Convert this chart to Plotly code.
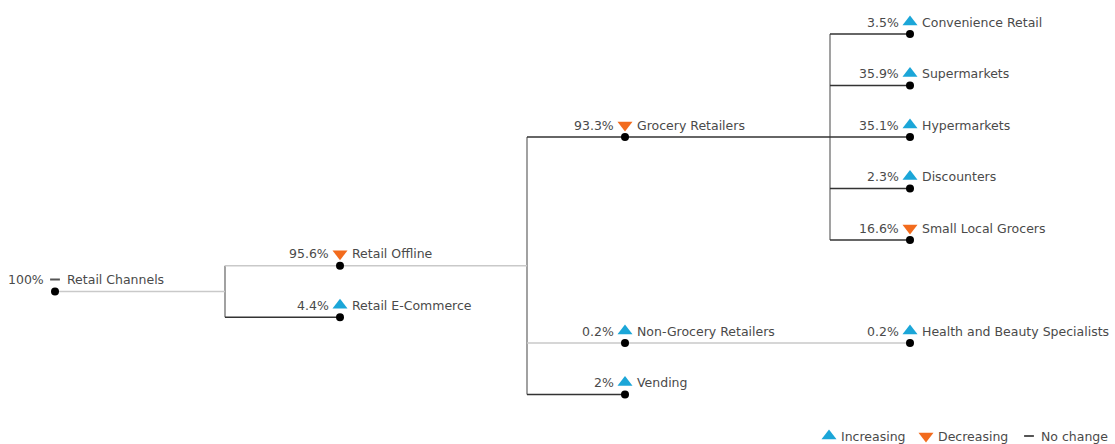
import plotly.graph_objects as go

# ---------------- data ----------------
NODES = ["Retail Channels", "Retail Offline", "Retail E-Commerce",
         "Grocery Retailers", "Non-Grocery Retailers", "Vending",
         "Convenience Retail", "Supermarkets", "Hypermarkets", "Discounters",
         "Small Local Grocers", "Health and Beauty Specialists"]
PARENTS = [None, "Retail Channels", "Retail Channels",
           "Retail Offline", "Retail Offline", "Retail Offline",
           "Grocery Retailers", "Grocery Retailers", "Grocery Retailers",
           "Grocery Retailers", "Grocery Retailers", "Non-Grocery Retailers"]
SHARES = [100, 95.6, 4.4, 93.3, 0.2, 2, 3.5, 35.9, 35.1, 2.3, 16.6, 0.2]
TRENDS = ["flat", "down", "up", "down", "up", "up",
          "up", "up", "up", "up", "down", "up"]
LEGEND_LABELS = ["Increasing", "Decreasing", "No change"]

# ---------------- style / layout constants ----------------
W, H = 1115, 444
X0, DX = 55, 285                # x of depth 0 and spacing between depths
BRANCH_GAP = [170, 187, 205]    # distance from node to its children's branch line
Y_TOP, UNIT = 34, 51.5          # y of top-most node, px per layout unit
LIGHT_STEMS = {"Retail Channels", "Retail Offline", "Non-Grocery Retailers",
               "Health and Beauty Specialists"}
C_LIGHT, C_DARK, C_VERT = "#c9c9c9", "#333333", "#7a7a7a"
C_UP, C_DOWN, C_FLAT = "#1ba6d8", "#f26b1d", "#555555"
TXT = "#4a4a4a"
FONT = "DejaVu Sans"
FS = 12.5
TRI = 13

# ---------------- tidy tree layout (contour based) ----------------
children = {n: [] for n in NODES}
for n, p in zip(NODES, PARENTS):
    if p is not None:
        children[p].append(n)
root = NODES[PARENTS.index(None)]
depth = {}
def set_depth(n, d):
    depth[n] = d
    for c in children[n]:
        set_depth(c, d + 1)
set_depth(root, 0)

rel = {}  # offset of node relative to parent
def layout(n):
    kids = children[n]
    if not kids:
        return {0: (0.0, 0.0)}
    offs, combined = [], None
    for c in kids:
        cont = layout(c)
        if combined is None:
            off = 0.0
        else:
            off = -1e9
            for d in cont:
                if d in combined:
                    sep = 1 if d == 0 else 2
                    off = max(off, combined[d][1] - cont[d][0] + sep)
        offs.append(off)
        shifted = {d: (a + off, b + off) for d, (a, b) in cont.items()}
        if combined is None:
            combined = shifted
        else:
            for d, (a, b) in shifted.items():
                if d in combined:
                    combined[d] = (min(combined[d][0], a), max(combined[d][1], b))
                else:
                    combined[d] = (a, b)
    mid = (offs[0] + offs[-1]) / 2
    for c, o in zip(kids, offs):
        rel[c] = o - mid
    res = {0: (0.0, 0.0)}
    for d, (a, b) in combined.items():
        res[d + 1] = (a - mid, b - mid)
    return res
layout(root)

u = {root: 0.0}
def absu(n):
    for c in children[n]:
        u[c] = u[n] + rel[c]
        absu(c)
absu(root)
umin = min(u.values())
px = {n: X0 + depth[n] * DX for n in NODES}
py = {n: Y_TOP + (u[n] - umin) * UNIT for n in NODES}
branch = {n: px[n] + BRANCH_GAP[depth[n]] for n in NODES if children[n]}

fig = go.Figure()

# vertical connectors
for n in NODES:
    kids = children[n]
    if len(kids) > 1:
        ys = [py[c] for c in kids]
        fig.add_trace(go.Scatter(x=[branch[n], branch[n]], y=[min(ys), max(ys)],
                                 mode="lines", line=dict(color=C_VERT, width=1.4),
                                 hoverinfo="skip", showlegend=False))
# horizontal stems
for n, p in zip(NODES, PARENTS):
    x_start = branch[p] if p is not None else px[n]
    x_end = branch[n] if children[n] else px[n]
    col = C_LIGHT if n in LIGHT_STEMS else C_DARK
    fig.add_trace(go.Scatter(x=[x_start, x_end], y=[py[n], py[n]], mode="lines",
                             line=dict(color=col, width=1.4),
                             hoverinfo="skip", showlegend=False))
# node dots
fig.add_trace(go.Scatter(x=[px[n] for n in NODES], y=[py[n] for n in NODES],
                         mode="markers", marker=dict(color="black", size=8),
                         text=NODES, hoverinfo="text", showlegend=False))

SYM = {"up": ("triangle-up", C_UP), "down": ("triangle-down", C_DOWN),
       "flat": ("line-ew", C_FLAT)}
def sym_marker(t):
    sym, col = SYM[t]
    return dict(symbol=sym, size=TRI if t != "flat" else 7, color=col,
                line=dict(color=col, width=2 if t == "flat" else 0))

for t in ["up", "down", "flat"]:
    sel = [n for n, tr in zip(NODES, TRENDS) if tr == t]
    fig.add_trace(go.Scatter(
        x=[px[n] for n in sel], y=[py[n] - 12 for n in sel], mode="markers",
        marker=sym_marker(t), hoverinfo="skip", showlegend=False))

for n, s in zip(NODES, SHARES):
    fig.add_annotation(x=px[n] - 9, y=py[n] - 12, text=f"{s:g}%", showarrow=False,
                       xanchor="right", yanchor="middle",
                       font=dict(family=FONT, size=FS, color=TXT))
    fig.add_annotation(x=px[n] + 10, y=py[n] - 12, text=n, showarrow=False,
                       xanchor="left", yanchor="middle",
                       font=dict(family=FONT, size=FS, color=TXT))

# legend (bottom right)
LEG_X = [829, 926, 1029]
LEG_Y = 436
for lx, lab, t in zip(LEG_X, LEGEND_LABELS, ["up", "down", "flat"]):
    fig.add_trace(go.Scatter(x=[lx], y=[LEG_Y], mode="markers",
                             marker=sym_marker(t), hoverinfo="skip",
                             showlegend=False))
    fig.add_annotation(x=lx + 10, y=LEG_Y, text=lab, showarrow=False,
                       xanchor="left", yanchor="middle",
                       font=dict(family=FONT, size=FS, color=TXT))

fig.update_layout(
    width=W, height=H, margin=dict(l=0, r=0, t=0, b=0),
    plot_bgcolor="white", paper_bgcolor="white",
    xaxis=dict(range=[0, W], visible=False, fixedrange=True),
    yaxis=dict(range=[H, 0], visible=False, fixedrange=True),
    showlegend=False,
)
fig.write_html("out.html", config={"displayModeBar": False},
               post_script="document.body.style.margin='0';")
